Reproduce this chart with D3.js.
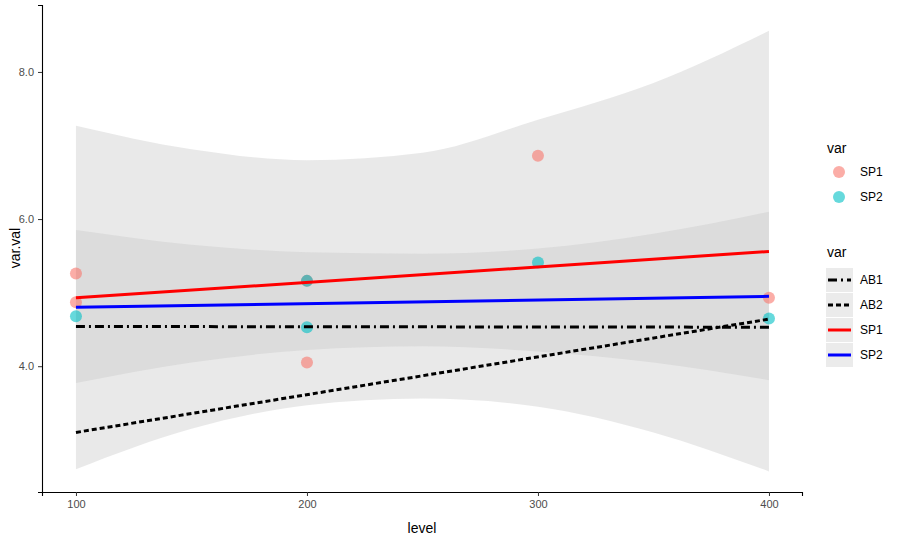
<!DOCTYPE html>
<html><head><meta charset="utf-8">
<script src="https://cdn.jsdelivr.net/npm/d3@7"></script>
<style>body{margin:0;background:#fff;font-family:"Liberation Sans",Arial,sans-serif}</style>
</head><body><svg id="chart" width="902" height="544"></svg>
<script>
const xTicks = [100, 200, 300, 400];
const yTicks = [4, 6, 8];
const sp1Points = [[100, 5.26], [100, 4.87], [200, 4.05], [200, 5.16], [300, 6.86], [400, 4.93]];
const sp2Points = [[100, 4.68], [200, 5.16], [200, 4.53], [300, 5.41], [400, 4.65]];
const fitLines = [
  { name: "AB1", from: [100, 4.54], to: [400, 4.53], color: "#000", dash: "9,4,2,4" },
  { name: "AB2", from: [100, 3.10], to: [400, 4.64], color: "#000", dash: "5,3" },
  { name: "SP1", from: [100, 4.93], to: [400, 5.56], color: "#ff0000", dash: null },
  { name: "SP2", from: [100, 4.80], to: [400, 4.95], color: "#0000ff", dash: null }
];
const ribbonX = [100, 150, 200, 250, 300, 350, 400];
const outerUpper = [7.27, 6.95, 6.80, 6.90, 7.35, 7.85, 8.56];
const outerLower = [2.60, 3.15, 3.47, 3.56, 3.45, 3.10, 2.57];
const innerUpper = [5.85, 5.65, 5.55, 5.53, 5.60, 5.80, 6.10];
const innerLower = [3.77, 4.05, 4.22, 4.27, 4.20, 4.05, 3.81];

const svg = d3.select("#chart");
const x = d3.scaleLinear().domain([85.3, 414.3]).range([42, 802]);
const y = d3.scaleLinear().domain([2.29, 8.91]).range([492, 5]);

function drawRibbon(upper, lower, fill) {
    const area = d3.area().curve(d3.curveMonotoneX)
        .x((d, i) => x(ribbonX[i])).y0((d, i) => y(lower[i])).y1(d => y(d));
    svg.append("path").datum(upper).attr("d", area).attr("fill", fill).attr("fill-opacity", 0.4);
}
drawRibbon(outerUpper, outerLower, "#c8c8c8");
drawRibbon(innerUpper, innerLower, "#c8c8c8");

function drawPoints(points, color) {
    svg.append("g").selectAll("circle").data(points).join("circle")
        .attr("cx", d => x(d[0])).attr("cy", d => y(d[1])).attr("r", 6)
        .attr("fill", color).attr("fill-opacity", 0.6);
}
drawPoints(sp1Points, "#f8766d");
drawPoints(sp2Points, "#00bfc4");

svg.append("g").selectAll("line").data(fitLines).join("line")
    .attr("x1", d => x(d.from[0])).attr("y1", d => y(d.from[1]))
    .attr("x2", d => x(d.to[0])).attr("y2", d => y(d.to[1]))
    .attr("stroke", d => d.color).attr("stroke-width", 3)
    .attr("stroke-dasharray", d => d.dash);

const xAxis = svg.append("g").attr("transform", "translate(0,492)")
    .call(d3.axisBottom(x).tickValues(xTicks).tickSize(4).tickPadding(4));
const yAxis = svg.append("g").attr("transform", "translate(42,0)")
    .call(d3.axisLeft(y).tickValues(yTicks).tickSize(4).tickPadding(4));
[xAxis, yAxis].forEach(a => {
    a.select(".domain").attr("stroke", "#000").attr("stroke-width", 1.1);
    a.selectAll(".tick line").attr("stroke", "#333");
    a.selectAll("text").attr("fill", "#4d4d4d").attr("font-size", 11).attr("font-family", "Liberation Sans, Arial");
});
svg.append("text").attr("x", 422).attr("y", 533).attr("text-anchor", "middle")
    .attr("font-size", 14).text("level");
svg.append("text").attr("transform", "translate(20,248) rotate(-90)").attr("text-anchor", "middle")
    .attr("font-size", 14).text("var.val");

// legend 1: points
svg.append("text").attr("x", 827).attr("y", 153).attr("font-size", 14).text("var");
[["SP1", "#f8766d"], ["SP2", "#00bfc4"]].forEach(([name, color], i) => {
    const cy = 172 + i * 25;
    svg.append("circle").attr("cx", 839).attr("cy", cy).attr("r", 6).attr("fill", color).attr("fill-opacity", 0.6);
    svg.append("text").attr("x", 860).attr("y", cy + 4).attr("font-size", 12).text(name);
});

// legend 2: lines
svg.append("text").attr("x", 827).attr("y", 257).attr("font-size", 14).text("var");
fitLines.forEach((d, i) => {
    const cy = 280 + i * 25;
    svg.append("rect").attr("x", 826).attr("y", cy - 12).attr("width", 27).attr("height", 24).attr("fill", "#ebebeb");
    svg.append("line").attr("x1", 828).attr("x2", 851).attr("y1", cy).attr("y2", cy)
        .attr("stroke", d.color).attr("stroke-width", 3).attr("stroke-dasharray", d.dash);
    svg.append("text").attr("x", 860).attr("y", cy + 4).attr("font-size", 12).text(d.name);
});
</script></body></html>
